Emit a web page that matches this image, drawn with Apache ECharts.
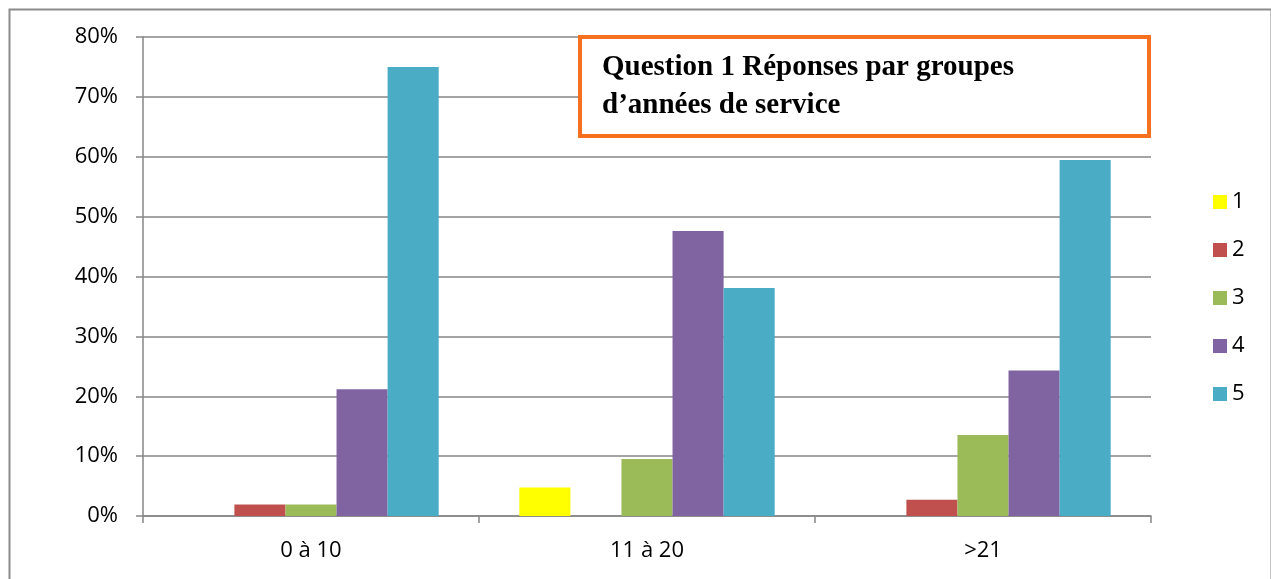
<!DOCTYPE html>
<html>
<head>
<meta charset="utf-8">
<script src="https://cdn.jsdelivr.net/npm/echarts@6/dist/echarts.min.js"></script>
<style>
  html, body { margin: 0; padding: 0; background: #fff; }
  #chart { width: 1271px; height: 579px; }
</style>
</head>
<body>
<div id="chart"></div>
<script>
  // groupes d'années de service
  var categories = ['0 à 10', '11 à 20', '>21'];
  var seriesNames = ['1', '2', '3', '4', '5'];
  // pourcentages
  var rep1 = [0, 4.76, 0];
  var rep2 = [1.92, 0, 2.7];
  var rep3 = [1.92, 9.52, 13.51];
  var rep4 = [21.15, 47.62, 24.32];
  var rep5 = [75.0, 38.1, 59.46];
  var colors = ['#FFFF00', '#C0504D', '#9BBB59', '#8064A2', '#4BACC6'];

  var chart = echarts.init(document.getElementById('chart'));
  var values = [rep1, rep2, rep3, rep4, rep5];
  var series = seriesNames.map(function (name, i) {
    return {
      name: name,
      type: 'bar',
      data: values[i],
      barGap: '0%',
      barCategoryGap: '24%',
      itemStyle: { color: colors[i] }
    };
  });

  var option = {
    animation: false,
    textStyle: { fontFamily: 'Open Sans' },
    color: colors,
    grid: { left: 143, right: 120, top: 37, bottom: 63 },
    legend: {
      orient: 'vertical',
      left: 1208,
      top: 186,
      itemWidth: 14,
      itemHeight: 14,
      itemGap: 26,
      icon: 'rect',
      data: seriesNames,
      textStyle: { fontSize: 22, color: '#000', fontFamily: 'Open Sans' }
    },
    xAxis: {
      type: 'category',
      data: categories,
      axisLine: { lineStyle: { color: '#868686', width: 1.5 } },
      axisTick: { show: true, length: 7, alignWithLabel: false, lineStyle: { color: '#868686', width: 1.5 } },
      axisLabel: { fontSize: 22, color: '#000', margin: 24 }
    },
    yAxis: {
      type: 'value',
      min: 0,
      max: 80,
      interval: 10,
      axisLine: { show: true, lineStyle: { color: '#868686', width: 1.5 } },
      axisTick: { show: true, length: 7, lineStyle: { color: '#868686', width: 1.5 } },
      axisLabel: { fontSize: 22, color: '#000', margin: 25, formatter: '{value}%' },
      splitLine: { show: true, lineStyle: { color: '#868686', width: 1.5 } }
    },
    graphic: [
      {
        type: 'rect',
        left: 7, top: 7,
        shape: { width: 1262, height: 590 },
        style: { fill: 'none', stroke: '#8c8c8c', lineWidth: 2 },
        silent: true
      },
      {
        type: 'rect',
        left: 578, top: 35,
        shape: { width: 569, height: 99 },
        style: { fill: '#fff', stroke: '#F7701F', lineWidth: 4 },
        z: 100
      },
      {
        type: 'text',
        left: 602, top: 49,
        style: {
          text: 'Question 1 Réponses par groupes\nd’années de service',
          font: 'bold 29px "Liberation Serif"',
          lineHeight: 38,
          fill: '#000'
        },
        z: 101
      }
    ],
    series: series
  };
  chart.setOption(option);
</script>
</body>
</html>
